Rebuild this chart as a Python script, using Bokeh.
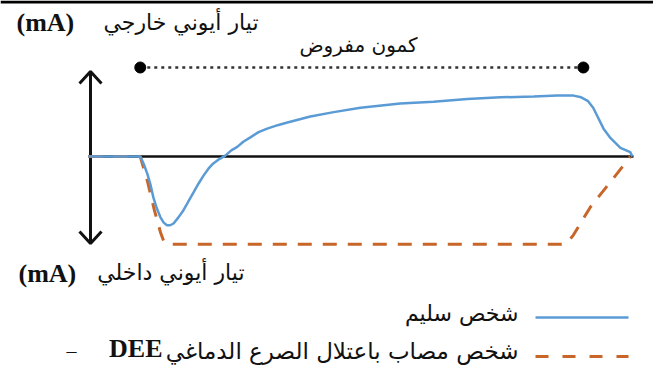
from bokeh.plotting import figure
from bokeh.models import Range1d, Label, Span
from bokeh.embed import file_html
from bokeh.resources import INLINE

# Time (arbitrary units, 0..100) and ionic current (normalised, outward > 0)
time_healthy = [0.0, 9.5, 10.1, 10.8, 11.4, 11.9, 12.5, 13.2, 13.8, 14.4,
                15.0, 15.6, 16.5, 17.4, 18.3, 19.3, 20.2, 21.1, 22.0, 22.9,
                24.0, 25.1, 26.2, 27.3, 28.4, 29.7, 31.2, 32.8, 34.7, 36.5,
                40.7, 45.0, 49.9, 57.2, 63.3, 69.5, 75.6, 81.7, 86.0, 89.0,
                90.4, 91.6, 92.6, 93.4, 94.5, 95.8, 97.6, 99.4, 99.8]
current_healthy = [0.0, 0.0, -0.08, -0.20, -0.33, -0.47, -0.59, -0.70, -0.76,
                   -0.79, -0.79, -0.77, -0.70, -0.62, -0.52, -0.41, -0.31,
                   -0.22, -0.14, -0.08, -0.03, 0.01, 0.07, 0.11, 0.17, 0.22,
                   0.28, 0.32, 0.36, 0.39, 0.46, 0.51, 0.56, 0.61, 0.63, 0.66,
                   0.68, 0.69, 0.70, 0.70, 0.68, 0.64, 0.56, 0.46, 0.32, 0.21,
                   0.10, 0.05, 0.0]

time_dee = [0.0, 9.5, 10.8, 12.1, 13.2, 13.9, 15.0, 86.6, 87.9, 89.0, 92.1,
            94.9, 97.2, 99.4]
current_dee = [0.0, 0.0, -0.28, -0.62, -0.87, -0.99, -1.01, -1.01, -0.99,
               -0.90, -0.58, -0.36, -0.18, 0.0]

# Imposed-voltage window
clamp_start, clamp_end = 9.5, 90.8

W, H = 653, 372
PX_PER_T = 5.45
PX_PER_I = 87.0
T0_PX = 88
BASE_PX = 156


def tx(px):
    return (px - T0_PX) / PX_PER_T


def iy(py):
    return (BASE_PX - py) / PX_PER_I


p = figure(width=W, height=H, output_backend="svg", toolbar_location=None,
           x_range=Range1d(tx(0), tx(W)), y_range=Range1d(iy(H), iy(0)),
           min_border=0, x_axis_location=None, y_axis_location=None)
p.grid.visible = False
p.outline_line_color = None
p.background_fill_color = "white"
p.border_fill_color = "white"

BLUE = "#5B9BD5"
ORANGE = "#C8662A"

# top rule
p.add_layout(Span(location=iy(1.5), dimension="width", line_color="black",
                  line_width=3))

# zero-current baseline and double-headed current arrow
p.line([0, 100], [0, 0], line_color="#111111", line_width=2.5)
ax = tx(90)
p.line([ax, ax], [iy(71), iy(243)], line_color="#111111", line_width=3)
p.multi_line([[tx(79), ax, tx(101)], [tx(79), ax, tx(101)]],
             [[iy(83), iy(71), iy(83)], [iy(231), iy(243), iy(231)]],
             line_color="#111111", line_width=3)

# imposed voltage bar
v_level = iy(67)
p.line([clamp_start, clamp_end], [v_level, v_level], line_color="#333333",
       line_width=2.5, line_dash="3 4")
p.scatter([clamp_start, clamp_end], [v_level, v_level], size=11,
          color="black")

# current traces
p.line(time_dee, current_dee, line_color=ORANGE, line_width=3,
       line_dash="14 11")
p.line(time_healthy, current_healthy, line_color=BLUE, line_width=2.5)

# legend samples
p.line([tx(535), tx(628)], [iy(317), iy(317)], line_color=BLUE, line_width=2.5)
p.line([tx(535), tx(628)], [iy(356), iy(356)], line_color=ORANGE,
       line_width=3, line_dash="13 14")

AR_FONT = "DejaVu Sans"
LAT_FONT = "Liberation Serif"


def label(x, py, text, font, size, align="left", style="normal",
          color="#111111"):
    p.add_layout(Label(x=x, y=H - py, x_units="screen", y_units="screen",
                       text=text, text_font=font, text_font_size=size,
                       text_align=align, text_baseline="middle",
                       text_font_style=style, text_color=color))


label(16, 22, "(mA)", LAT_FONT, "26px", style="bold")
label(258, 22, "تيار أيوني خارجي", AR_FONT, "22px", align="right")
label(358, 44, "كمون مفروض", AR_FONT, "20px", align="center")
label(18, 273, "(mA)", LAT_FONT, "26px", style="bold")
label(244, 272, "تيار أيوني داخلي", AR_FONT, "22px", align="right")
label(518, 313, "شخص سليم", AR_FONT, "22px", align="right")
label(518, 350, "شخص مصاب باعتلال الصرع الدماغي", AR_FONT, "23px",
      align="right")
label(162, 348, "DEE", LAT_FONT, "26px", align="right", style="bold")
label(66, 350, "–", LAT_FONT, "20px")

open("out.html", "w").write(file_html(p, INLINE))
